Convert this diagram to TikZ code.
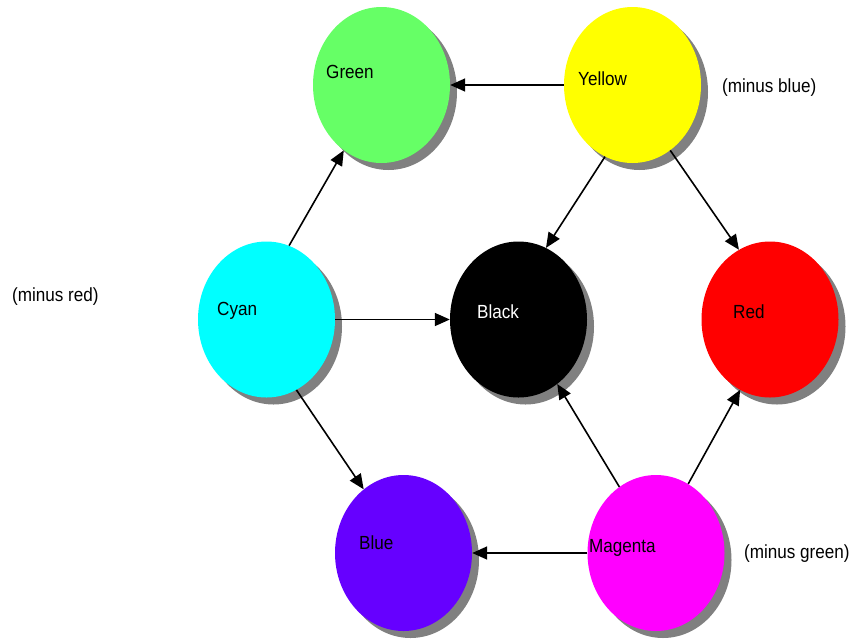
\documentclass[tikz,border=0pt]{standalone}
\usepackage{fontspec}
\setmainfont{Liberation Sans}[FakeStretch=0.9]
\usetikzlibrary{shapes.geometric,arrows.meta,shadows}
\definecolor{cgreen}{HTML}{66FF66}
\definecolor{cyellow}{HTML}{FFFF00}
\definecolor{ccyan}{HTML}{00FFFF}
\definecolor{cblack}{HTML}{000000}
\definecolor{cred}{HTML}{FF0000}
\definecolor{cblue}{HTML}{6600FF}
\definecolor{cmagenta}{HTML}{FF00FF}
\definecolor{shadowgray}{HTML}{808080}
\begin{document}
\begin{tikzpicture}[x=1pt,y=1pt,
  disc/.style={ellipse, minimum width=137pt, minimum height=156pt, inner sep=0pt,
    general shadow={fill=shadowgray, shadow xshift=7pt, shadow yshift=-7pt}},
  lbl/.style={anchor=base west, inner sep=0pt, font=\fontsize{19}{22}\selectfont},
  conn/.style={line width=1.6pt, -{Triangle[length=15pt,width=13pt]}}]
\useasboundingbox (0,0) rectangle (852,-638);

\node[disc, fill=cgreen]   (green)   at (381.5,-85)  {};
\node[disc, fill=cyellow]  (yellow)  at (632.5,-85)  {};
\node[disc, fill=ccyan]    (cyan)    at (266.5,-319.5) {};
\node[disc, fill=cblack]   (black)   at (518.5,-319.5) {};
\node[disc, fill=cred]     (red)     at (770,-319.5) {};
\node[disc, fill=cblue]    (blue)    at (403.5,-553) {};
\node[disc, fill=cmagenta] (magenta) at (656,-553)   {};

\node[lbl] (tgreen)   at (326,-78)  {Green};
\node[lbl] (tyellow)  at (578,-85)  {Yellow};
\node[lbl] (tcyan)    at (217,-315) {Cyan};
\node[lbl, text=white] (tblack) at (477,-318) {Black};
\node[lbl] (tred)     at (733,-318) {Red};
\node[lbl] (tblue)    at (359,-549) {Blue};
\node[lbl] (tmagenta) at (589,-552) {Magenta};
\node[lbl] (mblue)    at (722,-92)  {(minus blue)};
\node[lbl] (mred)     at (12,-301)  {(minus red)};
\node[lbl] (mgreen)   at (744,-558) {(minus green)};

\draw[conn] (yellow.west) -- (green.east);
\draw[conn] (yellow.249) -- (black.69);
\draw[conn] (yellow.300) -- (red.114.6);
\draw[conn] (cyan.73.4) -- (green.240.4);
\draw[conn] (cyan.east) -- (black.west);
\draw[conn] (cyan.293.3) -- (blue.122.8);
\draw[conn] (magenta.119.4) -- (black.301);
\draw[conn] (magenta.65.5) -- (red.247.9);
\draw[conn] (magenta.west) -- (blue.east);
\end{tikzpicture}
\end{document}
